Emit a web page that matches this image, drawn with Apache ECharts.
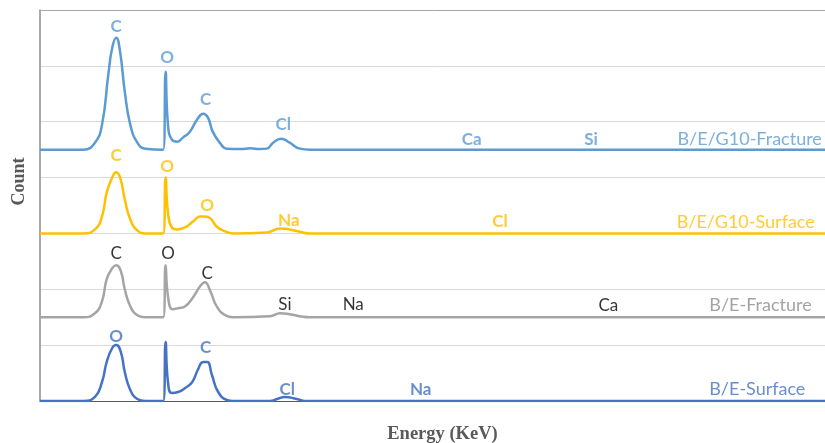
<!DOCTYPE html>
<html>
<head>
<meta charset="utf-8">
<script src="https://cdn.jsdelivr.net/npm/echarts@6/dist/echarts.min.js"></script>
<style>
  html, body { margin: 0; padding: 0; background: #fff; }
  #main { width: 825px; height: 443px; }
</style>
</head>
<body>
<div id="main"></div>
<script>
// spectra, [energy keV, counts above own baseline]
var g10Fracture = [[0, 0], [0.55, 0], [0.70, 125], [0.79, 448], [0.87, 1343], [0.92, 1826], [0.97, 2005],
  [1.02, 1754], [1.08, 1038], [1.15, 448], [1.24, 125], [1.34, 18], [1.57, 0], [1.60, 1396], [1.63, 448],
  [1.68, 179], [1.75, 143], [1.82, 215], [1.91, 322], [2.00, 537], [2.08, 644], [2.14, 573], [2.20, 322],
  [2.29, 125], [2.38, 18], [2.55, 10], [2.68, 25], [2.80, 10], [2.89, 18], [2.97, 125], [3.07, 197],
  [3.18, 125], [3.31, 18], [3.44, 0], [10, 0]];
var g10Surface = [[0, 0], [0.55, 0], [0.70, 72], [0.79, 304], [0.85, 734], [0.92, 1003], [0.97, 1097],
  [1.02, 1003], [1.08, 609], [1.15, 251], [1.24, 54], [1.34, 0], [1.57, 0], [1.60, 1003], [1.63, 376],
  [1.68, 107], [1.75, 72], [1.85, 107], [1.95, 215], [2.04, 304], [2.10, 304], [2.17, 269], [2.25, 125],
  [2.36, 36], [2.46, 0], [2.89, 18], [3.06, 90], [3.18, 72], [3.35, 18], [3.44, 0], [10, 0]];
var beFracture = [[0, 0], [0.55, 0], [0.70, 72], [0.79, 286], [0.85, 680], [0.92, 877], [0.97, 931],
  [1.03, 823], [1.08, 501], [1.15, 197], [1.24, 36], [1.34, 0], [1.57, 0], [1.60, 931], [1.63, 376],
  [1.69, 143], [1.76, 161], [1.85, 197], [1.95, 358], [2.04, 555], [2.10, 627], [2.17, 465], [2.25, 197],
  [2.36, 36], [2.46, 0], [2.93, 18], [3.06, 72], [3.18, 54], [3.35, 9], [3.44, 0], [10, 0]];
var beSurface = [[0, 0], [0.55, 0], [0.70, 72], [0.79, 340], [0.85, 698], [0.92, 949], [0.97, 1002],
  [1.03, 877], [1.08, 519], [1.15, 197], [1.24, 36], [1.34, 0], [1.57, 0], [1.60, 1056], [1.63, 340],
  [1.68, 143], [1.76, 161], [1.85, 233], [1.94, 340], [2.01, 555], [2.08, 698], [2.13, 698], [2.19, 465],
  [2.27, 161], [2.38, 18], [2.46, 0], [2.93, 0], [3.02, 36], [3.12, 72], [3.27, 36], [3.40, 0], [10, 0]];

var seriesNames = ['B/E/G10-Fracture', 'B/E/G10-Surface', 'B/E-Fracture', 'B/E-Surface'];
var seriesOffsets = [4500, 3000, 1500, 0];
var seriesColors = ['#5B9BD5', '#FFC000', '#A5A5A5', '#4472C4'];

// peak labels, [text, energy keV, count level]
var g10FractureLabels = [['C', 0.97, 6713], ['O', 1.62, 6158], ['C', 2.11, 5406], ['Cl', 3.10, 4958],
  ['Ca', 5.50, 4690], ['Si', 7.02, 4690]];
var g10SurfaceLabels = [['C', 0.97, 4403], ['O', 1.62, 4189], ['O', 2.13, 3508], ['Na', 3.17, 3240],
  ['Cl', 5.86, 3222]];
var beFractureLabels = [['C', 0.97, 2649], ['O', 1.63, 2649], ['C', 2.13, 2291], ['Si', 3.12, 1736],
  ['Na', 3.99, 1736], ['Ca', 7.24, 1718]];
var beSurfaceLabels = [['O', 0.97, 1163], ['C', 2.11, 949], ['Cl', 3.15, 197], ['Na', 4.85, 197]];
// series names written at the right end of each trace
var nameLabelPos = [[9.96, 4690], [9.87, 3204], [9.83, 1718], [9.75, 215]];

var spectra = [g10Fracture, g10Surface, beFracture, beSurface];
var peakLabels = [g10FractureLabels, g10SurfaceLabels, beFractureLabels, beSurfaceLabels];
var labelColors = ['#5B9BD5', '#FFC000', '#000000', '#4472C4'];
var nameColors = ['#5B9BD5', '#FFC000', '#8C8C8C', '#4472C4'];
var labelBold = [true, true, false, true];

var myChart = echarts.init(document.getElementById('main'));

var series = [];
spectra.forEach(function (pts, i) {
  series.push({
    name: seriesNames[i],
    type: 'line',
    data: pts.map(function (p) { return [p[0], p[1] + seriesOffsets[i]]; }),
    showSymbol: false,
    smooth: 0.5,
    lineStyle: { color: seriesColors[i], width: 2.5 },
    itemStyle: { color: seriesColors[i] },
    z: 3
  });
});

// text marks
peakLabels.forEach(function (list, i) {
  series.push({
    type: 'scatter',
    symbolSize: 0,
    silent: true,
    data: list.map(function (l) { return { value: [l[1], l[2]], name: l[0] }; }),
    label: {
      show: true,
      position: 'inside',
      formatter: '{b}',
      color: labelColors[i],
      fontFamily: 'Lato',
      fontSize: 17,
      fontWeight: labelBold[i] ? 'bold' : 'normal'
    },
    z: 5
  });
});
series.push({
  type: 'scatter',
  symbolSize: 0,
  silent: true,
  data: nameLabelPos.map(function (p, i) {
    return {
      value: p,
      name: seriesNames[i],
      label: { color: nameColors[i] }
    };
  }),
  label: {
    show: true,
    position: 'left',
    distance: 0,
    formatter: '{b}',
    fontFamily: 'Lato',
    fontSize: 18
  },
  z: 5
});

var option = {
  animation: false,
  grid: { left: 40, right: 0, top: 10, bottom: 42, outerBoundsMode: 'none' },
  xAxis: [{
    type: 'value',
    min: 0,
    max: 10,
    name: 'Energy (KeV)',
    nameLocation: 'middle',
    nameGap: 24,
    nameTextStyle: {
      fontFamily: 'Liberation Serif', fontWeight: 'bold', fontSize: 18.5, color: '#595959',
      padding: [0, 0, 0, 20]
    },
    axisLine: { show: true, lineStyle: { color: '#595959', width: 1 } },
    axisTick: { show: false },
    axisLabel: { show: false },
    splitLine: { show: false }
  }, {
    // top border of the plot
    type: 'value',
    position: 'top',
    min: 0,
    max: 10,
    axisLine: { show: true, lineStyle: { color: '#A6A6A6', width: 1 } },
    axisTick: { show: false },
    axisLabel: { show: false },
    splitLine: { show: false }
  }],
  yAxis: {
    type: 'value',
    min: 0,
    max: 7000,
    interval: 1000,
    name: 'Count',
    nameLocation: 'middle',
    nameGap: 12,
    nameTextStyle: {
      fontFamily: 'Liberation Serif', fontWeight: 'bold', fontSize: 18, color: '#595959',
      padding: [0, 0, 0, 48]
    },
    axisLine: { show: true, lineStyle: { color: '#8C8C8C', width: 1.5 } },
    axisTick: { show: false },
    axisLabel: { show: false },
    splitLine: { show: true, lineStyle: { color: '#D9D9D9', width: 1 } }
  },
  series: series
};

myChart.setOption(option, true);
</script>
</body>
</html>
